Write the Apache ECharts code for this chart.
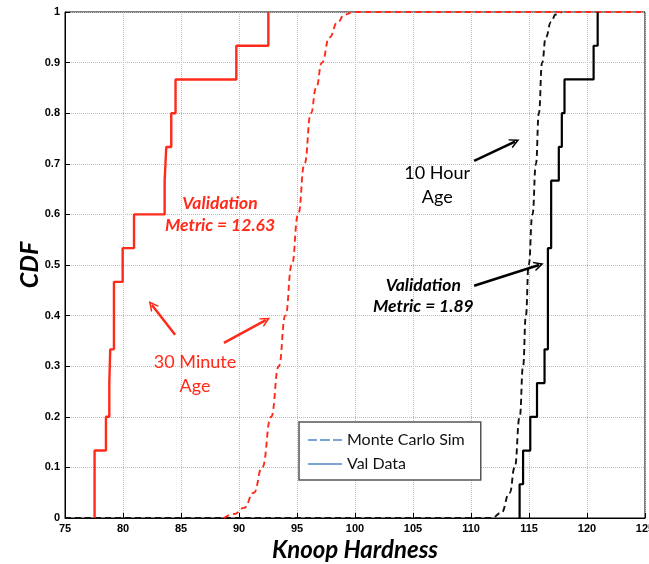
<!DOCTYPE html>
<html>
<head>
<meta charset="utf-8">
<script src="https://cdn.jsdelivr.net/npm/echarts@6/dist/echarts.min.js"></script>
<style>
  html, body { margin: 0; padding: 0; background: #fff; }
  #chart { width: 649px; height: 564px; }
</style>
</head>
<body>
<div id="chart"></div>
<script>
// axis ticks
const xTicks = [75, 80, 85, 90, 95, 100, 105, 110, 115, 120, 125];
const yTicks = [0, 0.1, 0.2, 0.3, 0.4, 0.5, 0.6, 0.7, 0.8, 0.9, 1];

// 30 minute age - validation data (ecdf steps, 15 samples)
const redValX = [77.55, 78.53, 78.82, 78.9, 79.22, 79.97, 80.95, 83.59, 83.73, 84.16, 84.53, 89.77, 92.53];
const redValY = [2/15, 3/15, 4/15, 5/15, 7/15, 8/15, 9/15, 10/15, 11/15, 12/15, 13/15, 14/15, 1];

// 10 hour age - validation data
const blackValX = [114.19, 114.49, 115.11, 115.69, 116.34, 116.63, 116.91, 117.57, 117.83, 118.06, 120.57, 120.92];
const blackValY = [1/15, 2/15, 3/15, 4/15, 5/15, 8/15, 10/15, 11/15, 12/15, 13/15, 14/15, 1];

// monte carlo CDFs
const redSimX = [88.7, 89.6, 90.43, 91.28, 92.0, 92.77, 93.43, 94.0, 94.55, 95.1, 95.65, 96.2, 96.65, 97.15, 97.8, 98.5, 99.1, 99.9, 125];
const redSimY = [0, 0.008, 0.02, 0.05, 0.1, 0.2, 0.3, 0.4, 0.5, 0.6, 0.7, 0.8, 0.85, 0.9, 0.95, 0.98, 0.995, 1, 1];
const blackSimX = [75, 111.8, 112.6, 113.34, 113.77, 114.2, 114.49, 114.73, 114.97, 115.3, 115.6, 115.85, 116.13, 116.45, 116.9, 117.3, 117.8];
const blackSimY = [0, 0, 0.01, 0.05, 0.1, 0.2, 0.3, 0.4, 0.5, 0.6, 0.7, 0.8, 0.9, 0.95, 0.98, 0.995, 1];

const RED = '#ff2a1a';
const BLUE = '#7ba3d6';

function pairs(xs, ys) { return xs.map((x, i) => [x, ys[i]]); }
function stairs(xs, ys) { return [[xs[0], 0]].concat(pairs(xs, ys)); }

// open chevron arrow head
const arrowHead = 'path://M0,10 L5,0 L10,10 L8.4,10 L5,3.6 L1.6,10 Z';

function arrow(from, to) {
  return [{ coord: from }, { coord: to }];
}
function note(coord, text, style) {
  return {
    coord: coord,
    symbol: 'circle', symbolSize: 1,
    itemStyle: { color: 'rgba(0,0,0,0)' },
    label: Object.assign({ show: true, position: 'inside', formatter: text, align: 'center' }, style)
  };
}

const chart = echarts.init(document.getElementById('chart'));

const option = {
  animation: false,
  grid: {
    left: 65, right: 4, top: 12, bottom: 46,
    outerBoundsMode: 'none', containLabel: false,
    show: true, borderColor: '#000', borderWidth: 1
  },
  legend: {
    orient: 'vertical',
    left: 299, top: 422,
    padding: [8, 16, 6, 9],
    itemWidth: 34, itemHeight: 2, itemGap: 4,
    backgroundColor: '#fff',
    borderColor: '#555', borderWidth: 1.5,
    data: [
      { name: 'Monte Carlo Sim', icon: 'path://M0,0h9v2h-9zM12,0h10v2h-10zM25,0h9v2h-9z' },
      { name: 'Val Data', icon: 'path://M0,0h34v2h-34z' }
    ],
    textStyle: { fontFamily: 'Lato', fontSize: 16, color: '#111', lineHeight: 20 }
  },
  xAxis: {
    type: 'value', min: 75, max: 125, interval: 5,
    name: 'Knoop Hardness', nameLocation: 'middle', nameGap: 20, nameMoveOverlap: false,
    nameTextStyle: { fontFamily: 'Lato', fontSize: 24, fontWeight: 'bold', fontStyle: 'italic', color: '#000', verticalAlign: 'top' },
    axisLine: { lineStyle: { color: '#000', width: 1 } },
    axisTick: { inside: true, length: 5, lineStyle: { color: '#000' } },
    axisLabel: { fontFamily: 'Liberation Sans', fontSize: 11, fontWeight: 'bold', color: '#000', margin: 5,
      formatter: v => xTicks.includes(v) ? String(v) : '' },
    splitLine: { show: true, lineStyle: { color: '#bbb', type: 'dotted', width: 1 } }
  },
  yAxis: {
    type: 'value', min: 0, max: 1, interval: 0.1,
    name: 'CDF', nameLocation: 'middle', nameGap: 35, nameMoveOverlap: false,
    nameTextStyle: { fontFamily: 'Lato', fontSize: 25, fontWeight: 'bold', fontStyle: 'italic', color: '#000', verticalAlign: 'middle' },
    axisLine: { lineStyle: { color: '#000', width: 1 } },
    axisTick: { inside: true, length: 5, lineStyle: { color: '#000' } },
    axisLabel: { fontFamily: 'Liberation Sans', fontSize: 11, fontWeight: 'bold', color: '#000', margin: 5,
      formatter: v => { const t = yTicks.find(k => Math.abs(k - v) < 1e-9); return t === undefined ? '' : String(t); } },
    splitLine: { show: true, lineStyle: { color: '#bbb', type: 'dotted', width: 1 } }
  },
  series: [
    {
      name: 'Monte Carlo Sim', type: 'line', data: [], symbol: 'none',
      lineStyle: { color: BLUE, type: 'dashed', width: 2 }, itemStyle: { color: BLUE }
    },
    {
      name: 'Val Data', type: 'line', data: [], symbol: 'none',
      lineStyle: { color: BLUE, width: 2 }, itemStyle: { color: BLUE }
    },
    {
      name: 'black sim', type: 'line', data: pairs(blackSimX, blackSimY),
      symbol: 'none', smooth: 0.5, smoothMonotone: 'x', z: 2,
      lineStyle: { color: '#111', type: [6, 4], width: 1.9 }
    },
    {
      name: 'red sim', type: 'line', data: pairs(redSimX, redSimY),
      symbol: 'none', smooth: 0.5, smoothMonotone: 'x', z: 3,
      lineStyle: { color: RED, type: [6, 4], width: 1.9 }
    },
    {
      name: 'red val', type: 'line', data: stairs(redValX, redValY),
      symbol: 'none', step: 'end', z: 4,
      lineStyle: { color: RED, width: 2.4 },
      markLine: {
        silent: true, symbol: ['none', arrowHead], symbolSize: [10, 10],
        label: { show: false },
        lineStyle: { color: RED, width: 2.5, type: 'solid' },
        data: [
          arrow([84.49, 0.362], [82.49, 0.421]),
          arrow([88.70, 0.346], [92.31, 0.391])
        ]
      },
      markPoint: {
        silent: true,
        data: [
          note([88.36, 0.601], 'Validation\nMetric = 12.63',
            { color: RED, fontFamily: 'Lato', fontSize: 17.5, fontWeight: 'bold', fontStyle: 'italic', lineHeight: 22 }),
          note([86.21, 0.285], '30 Minute\nAge',
            { color: RED, fontFamily: 'Lato', fontSize: 18, lineHeight: 24 })
        ]
      }
    },
    {
      name: 'black val', type: 'line', data: stairs(blackValX, blackValY),
      symbol: 'none', step: 'end', z: 4,
      lineStyle: { color: '#000', width: 2.2 },
      markLine: {
        silent: true, symbol: ['none', arrowHead], symbolSize: [10, 10],
        label: { show: false },
        lineStyle: { color: '#000', width: 2.5, type: 'solid' },
        data: [
          arrow([110.27, 0.706], [113.79, 0.744]),
          arrow([110.27, 0.459], [115.86, 0.500])
        ]
      },
      markPoint: {
        silent: true,
        data: [
          note([107.09, 0.658], '10 Hour\nAge',
            { color: '#000', fontFamily: 'Lato', fontSize: 18, lineHeight: 24 }),
          note([105.89, 0.4387], 'Validation\nMetric = 1.89',
            { color: '#000', fontFamily: 'Lato', fontSize: 17.5, fontWeight: 'bold', fontStyle: 'italic', lineHeight: 21 })
        ]
      }
    }
  ]
};

chart.setOption(option);
</script>
</body>
</html>
